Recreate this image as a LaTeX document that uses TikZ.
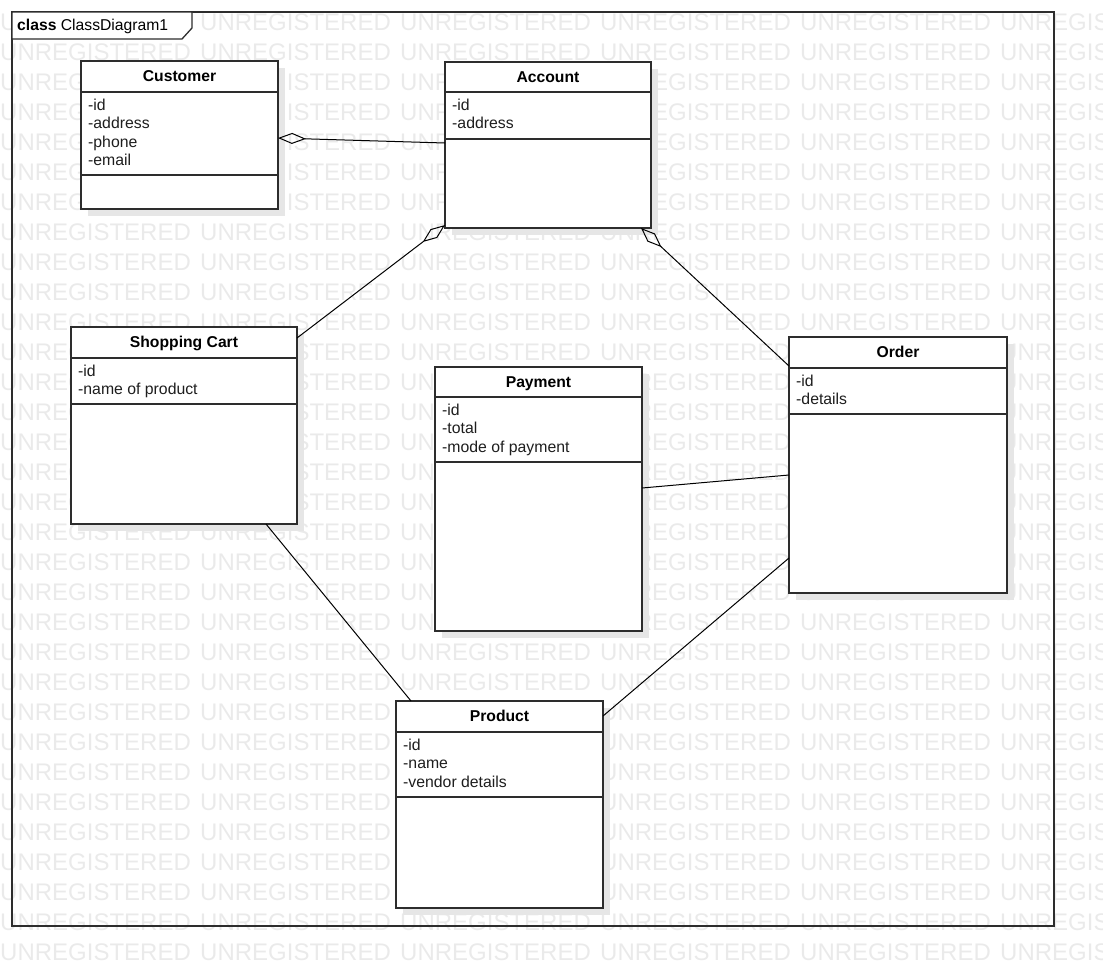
\documentclass[tikz,border=0pt]{standalone}
\usepackage{fontspec}
\setmainfont{Liberation Sans}
\usetikzlibrary{arrows.meta}
\definecolor{wmC}{RGB}{234,234,234}
\definecolor{lineC}{RGB}{45,45,45}
\definecolor{shadowC}{RGB}{230,230,230}
\definecolor{txtC}{RGB}{30,30,30}
\tikzset{
  classbox/.style={draw=lineC, line width=1.3pt, fill=white, rectangle, inner sep=0pt, outer sep=0pt},
  boxline/.style={draw=lineC, line width=1.3pt},
  titletext/.style={anchor=base, inner sep=0pt, text=black, font=\bfseries\fontsize{15.7}{18}\selectfont},
  attrtext/.style={anchor=base west, inner sep=0pt, text=txtC, font=\fontsize{15.8}{18}\selectfont},
  wmtext/.style={anchor=base west, inner sep=0pt, text=wmC, font=\fontsize{24}{24}\selectfont},
  conn/.style={draw=black, line width=1pt},
  framebox/.style={draw=lineC, line width=1.5pt, rectangle, inner sep=0pt, outer sep=0pt}
}
\newcommand{\umlclass}[9]{%
  \fill[shadowC] (#2+7,#3+7) rectangle (#4+7,#5+7);
  \node[classbox, minimum width={(#4-#2)*1pt}, minimum height={(#5-#3)*1pt}] (#1) at ({(#2+#4)/2},{(#3+#5)/2}) {};
  \draw[boxline] (#1.west |- 0,#6) -- (#1.east |- 0,#6);
  \draw[boxline] (#1.west |- 0,#7) -- (#1.east |- 0,#7);
  \node[titletext] (#1-title) at ({(#2+#4)/2},#3+20.8) {#8};
  \foreach \a [count=\i] in {#9} \node[attrtext] (#1-a\i) at (#2+7,{#6+18+18.6*(\i-1)}) {\a};
}
\begin{document}
\begin{tikzpicture}[x=1pt,y=-1pt]
\useasboundingbox (0,0) rectangle (1103,975);
% watermark
\begin{scope}
\clip (0,0) rectangle (1103,975);
\foreach \r in {0,...,31}
  \foreach \c in {0,...,5}
    \node[wmtext] (wm-\r-\c) at (200*\c, 30+30*\r) {UNREGISTERED};
\end{scope}
% frame
\node[framebox, minimum width=1042pt, minimum height=914pt] (frame) at (533,469) {};
\draw[draw=lineC, line width=1.3pt, fill=white] (frame.north west) -- (192,12) -- (192,28) -- (182,39) -- (frame.west |- 0,39) -- cycle;
\node[anchor=base west, inner sep=0pt, font=\fontsize{15.7}{18}\selectfont] (tablabel) at (17,30.5) {\textbf{class} ClassDiagram1};
% classes
\umlclass{cust}{81}{61}{278}{209}{92}{175}{Customer}{-id,-address,-phone,-email}
\umlclass{acc}{445}{62}{651}{228}{92}{139}{Account}{-id,-address}
\umlclass{cart}{71}{327}{297}{524}{358}{404}{Shopping Cart}{-id,-name of product}
\umlclass{pay}{435}{367}{642}{631}{397}{462}{Payment}{-id,-total,-mode of payment}
\umlclass{order}{789}{337}{1007}{593}{368}{414}{Order}{-id,-details}
\umlclass{prod}{396}{701}{603}{908}{732}{797}{Product}{-id,-name,-vendor details}
% connectors
\draw[conn, {Diamond[open,length=28pt,width=11pt]}-] (cust.east |- 0,138) -- (acc.west |- 0,143);
\draw[conn, {Diamond[open,length=28pt,width=11pt]}-] (acc.west |- 0,225) -- (cart.east |- 0,338);
\draw[conn, {Diamond[open,length=28pt,width=11pt]}-] (acc.south -| 641,0) -- (order.west |- 0,366);
\draw[conn] (pay.east |- 0,488) -- (order.west |- 0,475);
\draw[conn] (cart.south -| 266,0) -- (prod.north -| 411,0);
\draw[conn] (prod.east |- 0,716) -- (order.west |- 0,558);
\end{tikzpicture}
\end{document}
